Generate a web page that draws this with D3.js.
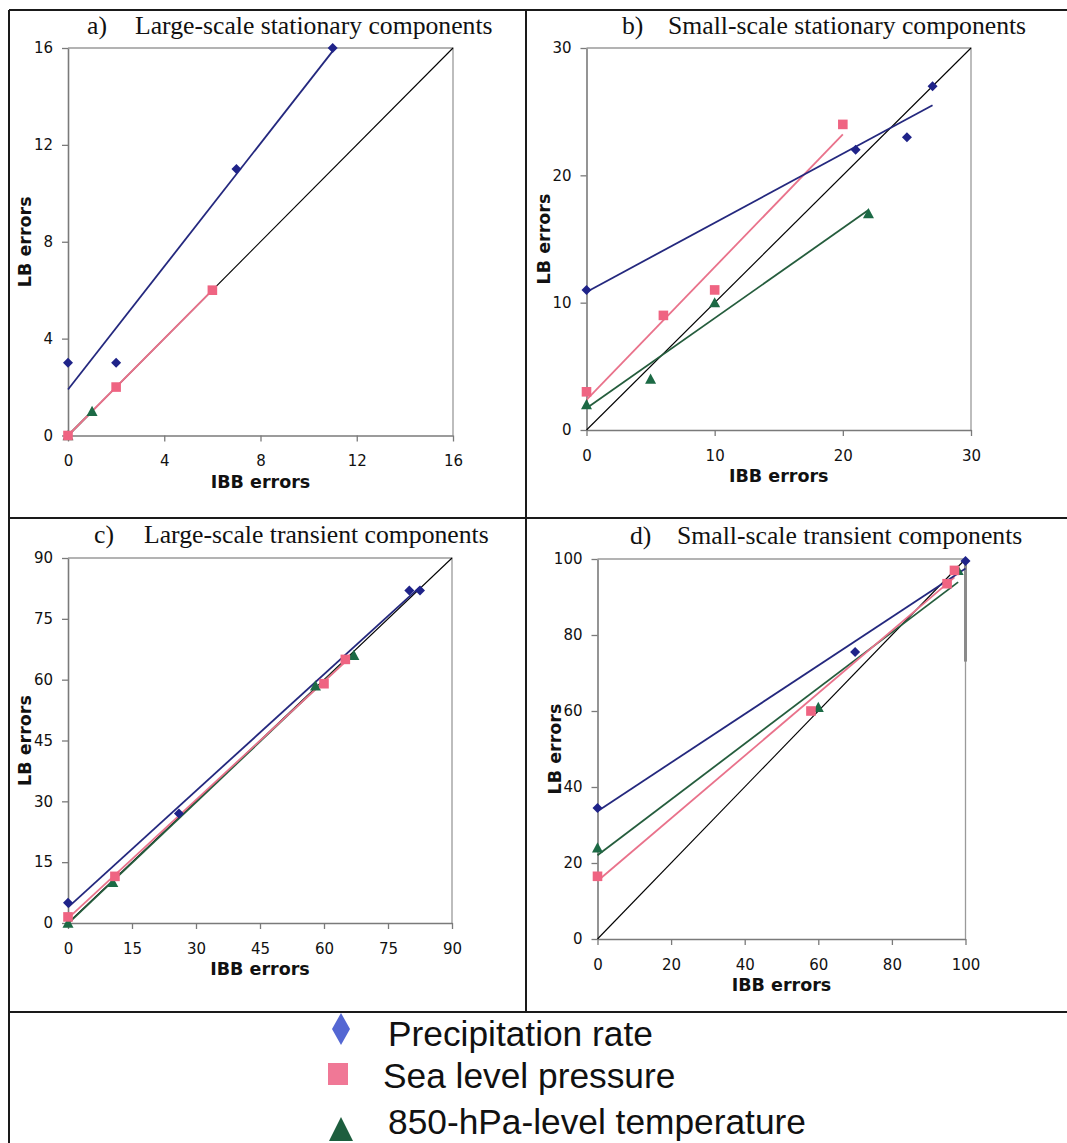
<!DOCTYPE html>
<html><head><meta charset="utf-8">
<script src="https://cdn.jsdelivr.net/npm/d3@7"></script>
<style>body{margin:0;background:#fff}</style>
</head><body><svg id="chart" width="1067" height="1143"></svg>
<script>
// ---- data ----
const panelLetters = ["a)", "b)", "c)", "d)"];
const panelTitles = [
  "Large-scale stationary components",
  "Small-scale stationary components",
  "Large-scale transient components",
  "Small-scale transient components"
];
const axisMax = [16, 30, 90, 100];
const axisTicks = [
  [0, 4, 8, 12, 16],
  [0, 10, 20, 30],
  [0, 15, 30, 45, 60, 75, 90],
  [0, 20, 40, 60, 80, 100]
];
const xAxisTitle = "IBB errors";
const yAxisTitle = "LB errors";
const seriesNames = ["Precipitation rate", "Sea level pressure", "850-hPa-level temperature"];

// IBB errors (x) and LB errors (y), one inner array per panel a-d
const precipIBB = [[0, 2, 7, 11], [0, 21, 25, 27], [0, 26, 80, 82.5], [0, 70, 100]];
const precipLB  = [[3, 3, 11, 16], [11, 22, 23, 27], [5, 27, 82, 82], [34.5, 75.5, 99.5]];
const slpIBB    = [[0, 2, 6], [0, 6, 10, 20], [0, 11, 60, 65], [0, 58, 95, 97]];
const slpLB     = [[0, 2, 6], [3, 9, 11, 24], [1.5, 11.5, 59, 65], [16.5, 60, 93.5, 97]];
const tempIBB   = [[0, 1], [0, 5, 10, 22], [0, 10.5, 58, 67], [0, 60, 98]];
const tempLB    = [[0, 1], [2, 4, 10, 17], [0, 10, 58.5, 66], [24, 61, 97]];

// vertical bar at the right edge of panel d (LB range)
const panelDBarLB = [73, 100];

// ---- layout ----
const frame = {left: 9, top: 10, right: 1067, bottom: 1143, midX: 526, rowY: 518, legendY: 1012};
const plots = [
  {x0: 68,    x1: 453,   y0: 435.5, y1: 48,  titleY: 34,  letterX: 87,  titleX: 135},
  {x0: 586.5, x1: 971,   y0: 430,   y1: 48,  titleY: 34,  letterX: 622, titleX: 668},
  {x0: 68,    x1: 452,   y0: 923,   y1: 558, titleY: 543, letterX: 94,  titleX: 144},
  {x0: 597.5, x1: 965.5, y0: 939,   y1: 559, titleY: 544, letterX: 630, titleX: 677}
];

const colors = {
  precip: {mark: "#1f2389", line: "#24287e"},
  slp:    {mark: "#ef6482", line: "#e9728b"},
  temp:   {mark: "#1c6a45", line: "#255d3d"}
};

const svg = d3.select("#chart");

// outer frame and dividers
const fr = svg.append("g").attr("stroke", "#1a1a1a").attr("stroke-width", 2).attr("fill", "none");
fr.append("line").attr("x1", frame.left).attr("x2", frame.right).attr("y1", frame.top).attr("y2", frame.top);
fr.append("line").attr("x1", frame.left).attr("x2", frame.left).attr("y1", frame.top).attr("y2", frame.bottom);
fr.append("line").attr("x1", frame.midX).attr("x2", frame.midX).attr("y1", frame.top).attr("y2", frame.legendY);
fr.append("line").attr("x1", frame.left).attr("x2", frame.right).attr("y1", frame.rowY).attr("y2", frame.rowY);
fr.append("line").attr("x1", frame.left).attr("x2", frame.right).attr("y1", frame.legendY).attr("y2", frame.legendY);

// marker shapes
const shapes = {
  diamond: s => `M0,${-s}L${s},0L0,${s}L${-s},0Z`,
  square: s => `M${-s},${-s}h${2 * s}v${2 * s}h${-2 * s}Z`,
  triangle: s => `M0,${-s}L${s},${s * 0.85}L${-s},${s * 0.85}Z`
};

// ordinary least-squares fit
function fit(xs, ys) {
  const mx = d3.mean(xs), my = d3.mean(ys);
  let sxx = 0, sxy = 0;
  xs.forEach((x, i) => { sxx += (x - mx) ** 2; sxy += (x - mx) * (ys[i] - my); });
  const b = sxx ? sxy / sxx : 1;
  return {slope: b, intercept: my - b * mx};
}

plots.forEach((p, i) => {
  const max = axisMax[i];
  const x = d3.scaleLinear().domain([0, max]).range([p.x0, p.x1]);
  const y = d3.scaleLinear().domain([0, max]).range([p.y0, p.y1]);
  const g = svg.append("g");

  // title
  g.append("text").attr("x", p.letterX).attr("y", p.titleY)
    .attr("font-family", "Liberation Serif, Times New Roman, serif").attr("font-size", 25.7)
    .attr("fill", "#111").text(panelLetters[i]);
  g.append("text").attr("x", p.titleX).attr("y", p.titleY)
    .attr("font-family", "Liberation Serif, Times New Roman, serif").attr("font-size", 25.7)
    .attr("fill", "#111").text(panelTitles[i]);

  // plot-area border (top and right)
  g.append("path")
    .attr("d", `M${x(0)},${y(max)}H${x(max)}V${y(0)}`)
    .attr("fill", "none").attr("stroke", "#9a9a9a").attr("stroke-width", 1.3);

  // axes
  const ax = g.append("g").attr("transform", `translate(0,${y(0)})`)
    .call(d3.axisBottom(x).tickValues(axisTicks[i]).tickSize(6).tickSizeOuter(0).tickPadding(14));
  const ay = g.append("g").attr("transform", `translate(${x(0)},0)`)
    .call(d3.axisLeft(y).tickValues(axisTicks[i]).tickSize(6).tickSizeOuter(0).tickPadding(9));
  [ax, ay].forEach(a => {
    a.select(".domain").attr("stroke", "#7a7a7a").attr("stroke-width", 1.6);
    a.selectAll(".tick line").attr("stroke", "#7a7a7a").attr("stroke-width", 1.3);
    a.selectAll(".tick text").attr("font-family", "DejaVu Sans, Verdana, sans-serif")
      .attr("font-size", 15).attr("fill", "#111");
  });

  // axis titles
  g.append("text").attr("x", (p.x0 + p.x1) / 2).attr("y", p.y0 + 52)
    .attr("text-anchor", "middle").attr("font-family", "DejaVu Sans, Verdana, sans-serif")
    .attr("font-weight", "bold").attr("font-size", 17.5).attr("fill", "#111").text(xAxisTitle);
  g.append("text").attr("transform", `translate(${p.x0 - 37},${(p.y0 + p.y1) / 2}) rotate(-90)`)
    .attr("text-anchor", "middle").attr("font-family", "DejaVu Sans, Verdana, sans-serif")
    .attr("font-weight", "bold").attr("font-size", 17.5).attr("fill", "#111").text(yAxisTitle);

  // 1:1 reference line
  g.append("line").attr("x1", x(0)).attr("y1", y(0)).attr("x2", x(max)).attr("y2", y(max))
    .attr("stroke", "#000").attr("stroke-width", 1.1);

  if (i === 3) {
    g.append("line").attr("x1", x(100)).attr("x2", x(100))
      .attr("y1", y(panelDBarLB[0])).attr("y2", y(panelDBarLB[1]))
      .attr("stroke", "#8a8a8a").attr("stroke-width", 3);
  }

  const series = [
    {xs: tempIBB[i], ys: tempLB[i], c: colors.temp, shape: "triangle", size: 5.5},
    {xs: slpIBB[i], ys: slpLB[i], c: colors.slp, shape: "square", size: 4.8},
    {xs: precipIBB[i], ys: precipLB[i], c: colors.precip, shape: "diamond", size: 5}
  ];

  // linear trend lines
  series.forEach(s => {
    const f = fit(s.xs, s.ys);
    const xa = d3.min(s.xs), xb = d3.max(s.xs);
    g.append("line")
      .attr("x1", x(xa)).attr("y1", y(f.intercept + f.slope * xa))
      .attr("x2", x(xb)).attr("y2", y(f.intercept + f.slope * xb))
      .attr("stroke", s.c.line).attr("stroke-width", 1.8);
  });

  // markers
  series.forEach(s => {
    g.selectAll(null).data(s.xs.map((v, k) => [v, s.ys[k]])).join("path")
      .attr("transform", d => `translate(${x(d[0])},${y(d[1])})`)
      .attr("d", shapes[s.shape](s.size))
      .attr("fill", s.c.mark);
  });
});

// legend
const legend = [
  {shape: "diamond", fill: "#5467d3", cx: 341, cy: 1029, baseline: 1046},
  {shape: "square", fill: "#f07896", cx: 338, cy: 1074, baseline: 1088},
  {shape: "triangle", fill: "#1d5e3e", cx: 341, cy: 1130, baseline: 1134}
];
const lg = svg.append("g");
legend.forEach((l, k) => {
  let d;
  if (l.shape === "diamond") d = "M0,-16L9,0L0,16L-9,0Z";
  else if (l.shape === "square") d = "M-10,-11h20v22h-20Z";
  else d = "M0,-13L12,11L-12,11Z";
  lg.append("path").attr("transform", `translate(${l.cx},${l.cy})`).attr("d", d).attr("fill", l.fill);
  lg.append("text").attr("x", k === 1 ? 383 : 388).attr("y", l.baseline)
    .attr("font-family", "Liberation Sans, Arial, sans-serif").attr("font-size", 35.3)
    .attr("fill", "#111").text(seriesNames[k]);
});
</script>
</body></html>
